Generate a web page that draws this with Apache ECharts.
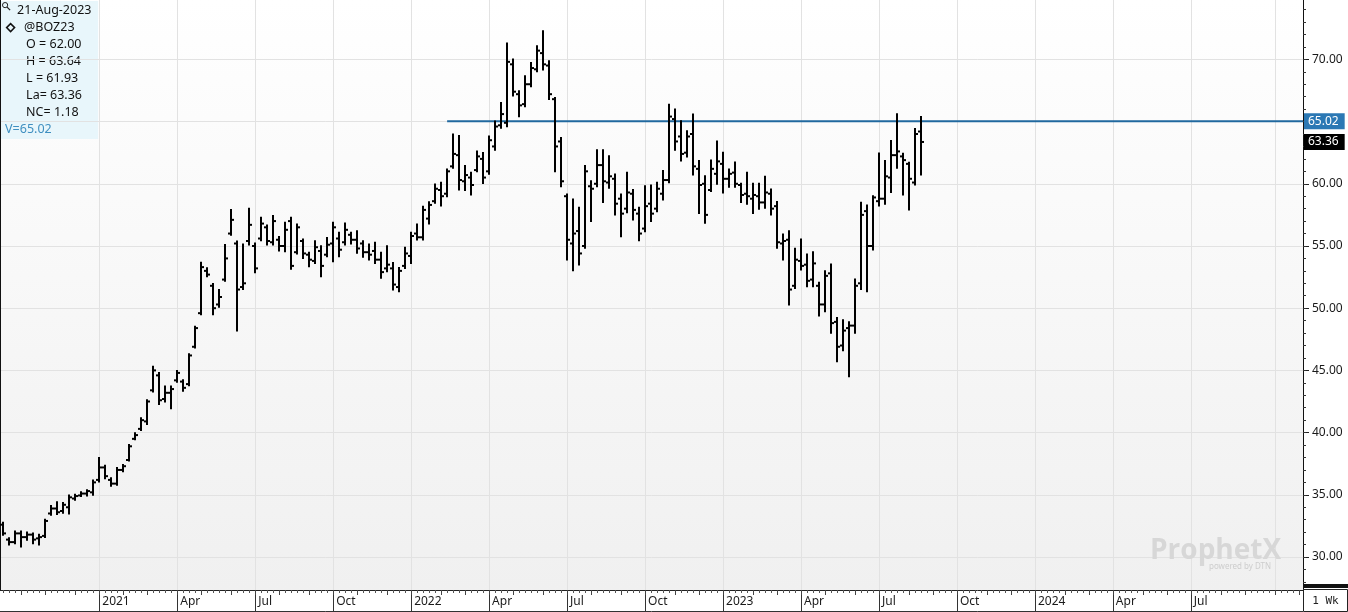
<!DOCTYPE html>
<html>
<head>
<meta charset="utf-8">
<title>@BOZ23 weekly</title>
<style>
html,body{margin:0;padding:0;background:#fff;}
#main{width:1348px;height:612px;}
</style>
</head>
<body>
<div id="main"></div>
<script src="https://cdn.jsdelivr.net/npm/echarts@6/dist/echarts.min.js"></script>
<script>
// weekly bars, bar 0 = Mon 14-Sep-2020
var firstMonday = Date.UTC(2020, 8, 14);

var opens = [
  32.6, 31.4, 31.2, 31.9, 31.6, 31.8, 31.5, 31.7, 33.5, 33.9,
  33.7, 34.0, 34.7, 34.95, 35.1, 35.2, 36.2, 37.2, 36.2, 35.9,
  37.0, 37.8, 39.5, 40.3, 40.9, 43.4, 44.6, 42.7, 43.2, 44.2,
  44.1, 43.9, 46.9, 49.6, 53.0, 51.8, 50.3, 52.3, 56.0, 55.2,
  51.7, 55.4, 55.0, 55.6, 56.5, 55.3, 55.5, 55.0, 57.0, 54.5,
  55.4, 54.3, 53.8, 54.6, 54.3, 55.2, 55.6, 55.3, 55.9, 55.5,
  55.2, 54.5, 54.6, 53.9, 53.2, 53.2, 51.7, 53.4, 54.2, 56.0,
  55.7, 57.2, 58.6, 59.5, 59.2, 61.4, 62.3, 60.2, 60.5, 61.1,
  62.0, 61.0, 63.0, 64.7, 64.9, 69.6, 67.2, 66.4, 68.0, 69.2,
  70.5, 69.5, 66.8, 63.4, 59.0, 55.2, 56.2, 55.0, 59.8, 60.0,
  61.5, 60.1, 60.4, 58.8, 58.0, 59.2, 57.6, 56.4, 58.4, 58.0,
  59.2, 60.3, 65.2, 63.8, 62.5, 64.0, 61.2, 60.0, 59.5, 60.8,
  61.6, 60.4, 60.9, 59.9, 59.2, 58.8, 59.0, 58.5, 59.2, 58.2,
  55.2, 55.5, 51.8, 53.8, 53.5, 52.3, 51.8, 50.3, 52.8, 48.9,
  47.0, 48.4, 48.6, 52.0, 57.8, 55.0, 58.6, 58.8, 60.5, 62.3,
  62.2, 61.6, 60.1, 64.2
];
var highs = [
  32.75, 31.5, 32.05, 32.05, 31.97, 31.9, 31.8, 33.0, 34.1, 34.4,
  34.35, 34.95, 35.0, 35.2, 35.37, 36.15, 37.95, 37.33, 36.34, 37.15,
  37.4, 39.0, 39.95, 41.15, 42.6, 45.3, 44.8, 43.7, 43.7, 44.96,
  44.2, 46.3, 48.5, 53.65, 53.2, 51.94, 51.46, 55.08, 57.9, 55.35,
  55.12, 57.99, 55.2, 57.26, 56.65, 57.4, 55.73, 56.86, 57.26, 56.73,
  55.52, 54.45, 55.39, 54.98, 55.65, 56.86, 56.06, 56.81, 56.06, 56.19,
  55.39, 55.12, 55.25, 54.45, 54.98, 53.64, 53.24, 54.85, 56.06, 56.73,
  58.15, 58.52, 59.94, 60.08, 61.15, 63.96, 63.83, 61.42, 60.88, 62.6,
  62.47, 63.8, 65.0, 66.5, 71.27, 69.98, 67.43, 68.64, 69.71, 71.05,
  72.26, 69.85, 66.9, 63.67, 59.14, 58.74, 58.07, 61.42, 60.21, 62.7,
  62.7, 62.22, 60.75, 59.14, 60.88, 59.49, 58.07, 59.81, 59.86, 60.08,
  61.02, 66.36, 65.96, 65.02, 64.22, 65.56, 61.82, 60.61, 61.87, 63.4,
  62.5, 61.15, 61.7, 60.0, 60.88, 60.0, 60.0, 60.56, 59.54, 58.53,
  55.92, 56.19, 54.77, 55.52, 54.31, 54.5, 52.04, 52.97, 53.51, 49.22,
  49.03, 48.87, 52.31, 58.47, 58.26, 59.0, 62.44, 61.82, 63.43, 65.58,
  62.41, 61.69, 64.4, 65.36
];
var lows = [
  31.8, 31.0, 31.1, 30.85, 31.38, 31.1, 31.0, 31.6, 33.4, 33.45,
  33.55, 33.5, 34.6, 34.9, 34.95, 35.0, 36.07, 36.34, 35.73, 35.8,
  36.9, 37.75, 39.47, 40.2, 40.7, 43.3, 42.3, 42.5, 41.95, 44.08,
  43.37, 43.8, 46.84, 49.52, 52.57, 49.52, 50.12, 52.2, 55.9, 48.2,
  51.55, 55.12, 52.89, 55.46, 55.12, 55.12, 54.64, 54.58, 53.16, 54.39,
  54.04, 53.38, 53.64, 52.57, 54.18, 53.78, 54.18, 55.12, 55.2, 54.45,
  54.13, 53.91, 53.64, 52.44, 52.97, 51.5, 51.36, 53.24, 53.64, 55.52,
  55.52, 56.81, 58.47, 58.26, 59.0, 61.28, 59.54, 59.49, 59.14, 61.0,
  60.06, 60.8, 62.74, 64.5, 64.62, 67.09, 65.42, 66.23, 67.84, 69.04,
  69.18, 66.82, 61.0, 59.81, 53.91, 53.05, 53.51, 54.85, 57.0, 59.81,
  58.53, 59.67, 57.53, 55.79, 57.72, 57.13, 55.47, 56.19, 57.0, 57.8,
  58.74, 60.12, 62.74, 61.88, 62.2, 60.75, 57.66, 56.86, 59.41, 60.0,
  59.3, 59.76, 59.76, 58.53, 58.4, 57.66, 57.99, 58.07, 57.53, 54.85,
  53.91, 50.29, 51.63, 53.11, 51.77, 51.77, 49.41, 49.76, 48.02, 45.73,
  46.62, 44.53, 48.02, 51.55, 51.36, 54.72, 58.26, 58.4, 59.33, 61.28,
  59.14, 57.93, 59.94, 60.75
];
var closes = [
  31.9, 31.2, 31.9, 31.6, 31.8, 31.4, 31.6, 32.9, 33.9, 33.6,
  34.2, 34.8, 34.9, 35.1, 35.3, 36.0, 37.2, 36.5, 35.9, 37.0,
  37.3, 38.9, 39.8, 41.0, 42.5, 45.0, 42.6, 43.2, 43.5, 44.8,
  43.6, 46.2, 48.4, 53.3, 52.7, 50.0, 50.9, 54.0, 57.1, 51.5,
  52.0, 56.7, 53.2, 56.8, 55.4, 57.0, 55.0, 56.3, 53.4, 56.5,
  54.4, 53.9, 54.9, 53.4, 55.1, 56.5, 54.7, 56.3, 55.5, 54.8,
  54.5, 54.3, 53.9, 52.9, 53.5, 51.9, 53.0, 54.4, 55.8, 55.7,
  57.9, 58.3, 59.6, 59.0, 61.0, 62.4, 60.3, 60.7, 59.9, 62.2,
  60.5, 63.5, 64.6, 65.6, 69.8, 67.4, 66.3, 68.0, 69.3, 70.7,
  69.6, 67.2, 63.0, 60.2, 55.5, 56.0, 54.4, 61.0, 59.6, 61.5,
  60.2, 60.6, 58.4, 57.6, 59.3, 57.9, 56.0, 58.2, 57.6, 59.6,
  60.3, 65.4, 63.4, 62.4, 63.8, 61.4, 59.9, 57.5, 61.2, 61.8,
  60.4, 60.8, 60.0, 59.1, 59.0, 59.1, 58.5, 59.3, 58.0, 55.3,
  55.4, 51.5, 53.9, 53.4, 52.2, 53.6, 50.3, 52.6, 48.8, 46.9,
  48.2, 48.6, 51.8, 57.5, 55.0, 58.9, 58.8, 60.6, 62.3, 62.6,
  61.9, 60.4, 64.0, 63.36
];

// horizontal level drawn from Feb 2022 onwards
var refLevel = 65.02;
var refStartWeek = 74;

// info box of the last day
var quoteLines = ['O = 62.00', 'H = 63.64', 'L = 61.93', 'La= 63.36', 'NC= 1.18'];
var symbolName = '@BOZ23';

// axis ranges (week index / price)
var xMin = -0.55, xMax = 216.7;
var yMin = 27.35, yMax = 74.77;
var priceTicks = [30, 35, 40, 45, 50, 55, 60, 65, 70];
var monthNames = ['Jan','Feb','Mar','Apr','May','Jun','Jul','Aug','Sep','Oct','Nov','Dec'];

function weekDate(i){
    return new Date(firstMonday + Math.round(i) * 7 * 86400000);
}

// the grid starts with the first full quarter (2021)
var allWeeks = [], monthWeeks = [], quarterWeeks = [];
for (var w = Math.ceil(xMin); w <= Math.floor(xMax); w++) {
    var d = weekDate(w);
    allWeeks.push(w);
    if (d.getUTCDate() <= 7) {
        monthWeeks.push(w);
        if (d.getUTCMonth() % 3 == 0 && w > 10) quarterWeeks.push(w);
    }
}
// last quarter has no room for its label
var labelWeeks = quarterWeeks.filter(function(q){ return q < xMax - 5; });

var minorPrice = [];
for (var p = Math.ceil(yMin); p <= Math.floor(yMax); p++) minorPrice.push(p);

var bars = [];
for (var i = 0; i < opens.length; i++) {
    bars.push([i, opens[i], highs[i], lows[i], closes[i]]);
}
var lastIdx = opens.length - 1;
var lastDate = weekDate(lastIdx);
var lastDateText = ('0' + lastDate.getUTCDate()).slice(-2) + '-' + monthNames[lastDate.getUTCMonth()] + '-' + lastDate.getUTCFullYear();

var font = 'Noto Sans';

function renderOhlc(params, api){
    var x = api.value(0);
    var op = api.coord([x, api.value(1)]);
    var hi = api.coord([x, api.value(2)]);
    var lo = api.coord([x, api.value(3)]);
    var cl = api.coord([x, api.value(4)]);
    var cx = Math.round(hi[0]);
    var st = {stroke:'#000', lineWidth:2};
    return {
        type:'group',
        children:[
            {type:'line', shape:{x1:cx, y1:hi[1] - 1, x2:cx, y2:lo[1] + 1}, style:st},
            {type:'line', shape:{x1:cx - 3, y1:op[1], x2:cx, y2:op[1]}, style:st},
            {type:'line', shape:{x1:cx, y1:cl[1], x2:cx + 3, y2:cl[1]}, style:st}
        ]
    };
}

function xLabel(v){
    var d = weekDate(v);
    var m = d.getUTCMonth();
    return m == 0 ? String(d.getUTCFullYear()) : monthNames[m];
}

var quoteGraphics = [
    {type:'rect', shape:{x:0, y:0, width:97, height:138}, style:{fill:'#e8f6fb'}},
    {type:'circle', shape:{cx:4, cy:4, r:2.6}, style:{fill:'none', stroke:'#222', lineWidth:1}},
    {type:'line', shape:{x1:6, y1:6, x2:9, y2:9}, style:{stroke:'#222', lineWidth:1.3}},
    {type:'text', x:16, y:9, style:{text:lastDateText, fill:'#111', fontSize:12.5, fontFamily:font, verticalAlign:'middle'}},
    {type:'polygon', shape:{points:[[9.5,22.5],[13.5,26.5],[9.5,30.5],[5.5,26.5]]}, style:{fill:'none', stroke:'#111', lineWidth:1.5}},
    {type:'text', x:23, y:26.5, style:{text:symbolName, fill:'#111', fontSize:12.5, fontFamily:font, verticalAlign:'middle'}}
];
for (var q = 0; q < quoteLines.length; q++) {
    quoteGraphics.push({type:'text', x:25, y:43.5 + q * 17, style:{text:quoteLines[q], fill:'#111', fontSize:12.5, fontFamily:font, verticalAlign:'middle'}});
}
quoteGraphics.push({type:'text', x:4, y:128.5, style:{text:'V=' + refLevel.toFixed(2), fill:'#3f8fc0', fontSize:12.5, fontFamily:font, verticalAlign:'middle'}});

var chart = echarts.init(document.getElementById('main'));

var option = {
    animation:false,
    backgroundColor:'#fff',
    textStyle:{fontFamily:font},
    grid:{
        left:0, right:45, top:0, bottom:22,
        containLabel:false,
        outerBoundsMode:'none',
        show:true,
        borderWidth:0,
        backgroundColor:{
            type:'linear', x:0, y:0, x2:0, y2:1,
            colorStops:[{offset:0, color:'#ffffff'}, {offset:1, color:'#f0f0f0'}]
        }
    },
    xAxis:[
        {
            type:'value', min:xMin, max:xMax, position:'bottom',
            axisLine:{show:true, onZero:false, lineStyle:{color:'#222', width:1}},
            axisTick:{show:true, length:22, customValues:labelWeeks, lineStyle:{color:'#333'}},
            axisLabel:{show:true, customValues:labelWeeks, formatter:xLabel, align:'left', padding:[0,0,0,3], margin:6, color:'#1a1a1a', fontSize:12},
            splitLine:{show:false}
        },
        {
            type:'value', min:xMin, max:xMax, position:'bottom',
            axisLine:{show:false, onZero:false},
            axisTick:{show:false, customValues:quarterWeeks},
            axisLabel:{show:false},
            splitLine:{show:true, lineStyle:{color:'#e2e2e2', width:1}}
        },
        {
            type:'value', min:xMin, max:xMax, position:'bottom',
            axisLine:{show:false, onZero:false},
            axisTick:{show:true, length:3, customValues:allWeeks, lineStyle:{color:'#555'}},
            axisLabel:{show:false},
            splitLine:{show:false}
        },
        {
            type:'value', min:xMin, max:xMax, position:'bottom',
            axisLine:{show:false, onZero:false},
            axisTick:{show:true, length:5, customValues:monthWeeks, lineStyle:{color:'#444'}},
            axisLabel:{show:false},
            splitLine:{show:false}
        }
    ],
    yAxis:[
        {
            type:'value', min:yMin, max:yMax, position:'right',
            axisLine:{show:true, onZero:false, lineStyle:{color:'#111', width:1}},
            axisTick:{show:true, length:6, customValues:priceTicks, lineStyle:{color:'#222'}},
            axisLabel:{show:true, customValues:priceTicks, margin:9, color:'#1a1a1a', fontSize:12,
                formatter:function(v){ return v.toFixed(2); }},
            splitLine:{show:true, lineStyle:{color:'#e2e2e2', width:1}}
        },
        {
            type:'value', min:yMin, max:yMax, position:'left',
            axisLine:{show:true, onZero:false, lineStyle:{color:'#111', width:2}},
            axisTick:{show:false}, axisLabel:{show:false}, splitLine:{show:false}
        },
        {
            type:'value', min:yMin, max:yMax, position:'right',
            axisLine:{show:false, onZero:false},
            axisTick:{show:true, length:3, customValues:minorPrice, lineStyle:{color:'#333'}},
            axisLabel:{show:false}, splitLine:{show:false}
        }
    ],
    series:[
        {
            name:'level',
            type:'line',
            xAxisIndex:0, yAxisIndex:0,
            data:[[refStartWeek, refLevel], [xMax, refLevel]],
            symbol:'none',
            silent:true,
            z:2,
            lineStyle:{color:'#21699f', width:2},
            markLine:{
                symbol:['none','none'],
                silent:true,
                lineStyle:{color:'transparent', width:1},
                label:{
                    show:true, position:'end', distance:1,
                    color:'#fff', fontSize:12, padding:[2,6,2,4],
                    formatter:function(p){ return Number(p.value).toFixed(2); }
                },
                data:[
                    {yAxis:refLevel, label:{backgroundColor:'#2b78b4'}},
                    {yAxis:closes[lastIdx], label:{backgroundColor:'#000'}}
                ]
            }
        },
        {
            name:symbolName,
            type:'custom',
            xAxisIndex:0, yAxisIndex:0,
            renderItem:renderOhlc,
            encode:{x:0, y:[1,2,3,4]},
            data:bars,
            clip:true,
            z:3
        }
    ],
    graphic:[
        {type:'group', left:0, top:0, z:100, children:quoteGraphics},
        {type:'text', x:1150, y:551, z:50, silent:true,
            style:{text:'ProphetX', fill:'#d7d7d7', fontSize:28, fontWeight:'bold', fontFamily:'Open Sans', verticalAlign:'middle'}},
        {type:'text', x:1209, y:567, z:50, silent:true,
            style:{text:'powered by DTN', fill:'#cdcdcd', fontSize:8, fontFamily:font, verticalAlign:'middle'}},
        {type:'rect', z:60, shape:{x:1303, y:584, width:45, height:4}, style:{fill:'#111'}},
        {type:'rect', z:60, shape:{x:1303.5, y:589.5, width:44, height:22}, style:{fill:'#fff', stroke:'#222', lineWidth:1}},
        {type:'text', x:1325.5, y:601, z:61,
            style:{text:'1 Wk', fill:'#222', fontSize:11, fontFamily:'DejaVu Sans Mono', align:'center', verticalAlign:'middle'}},
        {type:'line', z:60, shape:{x1:0, y1:611.5, x2:1303, y2:611.5}, style:{stroke:'#333', lineWidth:1}}
    ]
};

chart.setOption(option);
</script>
</body>
</html>
